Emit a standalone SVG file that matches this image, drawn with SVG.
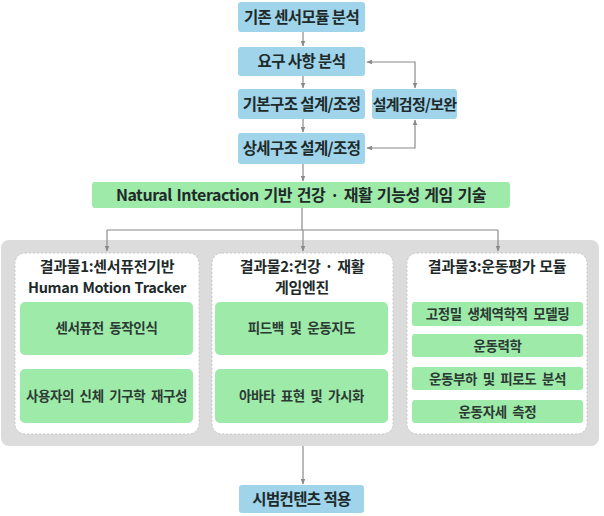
<svg xmlns="http://www.w3.org/2000/svg" width="604" height="516" viewBox="0 0 604 516">
<defs>
<marker id="ah" viewBox="0 0 10 10" refX="9" refY="5" markerWidth="6" markerHeight="6" orient="auto-start-reverse" markerUnits="userSpaceOnUse">
<path d="M0,1 L10,5 L0,9 z" fill="#8a8a8a"/>
</marker>
<style>
.blue{fill:#9fd4ea;}
.green{fill:#9eeaa9;}
.card{fill:#ffffff;stroke:#c8c8c8;stroke-width:1;stroke-dasharray:2 2;}
.t{font-family:"Noto Sans CJK KR","Liberation Sans",sans-serif;font-weight:bold;fill:#1e2a2a;text-anchor:middle;}
.b{font-size:15.5px;letter-spacing:-0.6px;}
.h{font-size:14.5px;letter-spacing:-0.3px;word-spacing:1px;}
.s{font-size:13.5px;letter-spacing:-0.4px;word-spacing:3px;fill:#2c3a34;}
.c{stroke:#8a8a8a;stroke-width:1.2;fill:none;}
</style>
</defs>
<rect width="604" height="516" fill="#ffffff"/>
<rect x="1" y="240" width="598" height="206" rx="8" fill="#dcdcdc"/>

<g id="connectors">
<line class="c" x1="303" y1="32" x2="303" y2="46" marker-end="url(#ah)"/>
<line class="c" x1="303" y1="76" x2="303" y2="88" marker-end="url(#ah)"/>
<line class="c" x1="303" y1="119" x2="303" y2="132" marker-end="url(#ah)"/>
<line class="c" x1="303" y1="164" x2="303" y2="181" marker-end="url(#ah)"/>
<polyline class="c" points="367,62 415,62 415,88" marker-start="url(#ah)" marker-end="url(#ah)"/>
<polyline class="c" points="367,148 415,148 415,120" marker-start="url(#ah)" marker-end="url(#ah)"/>
<line class="c" x1="302" y1="208" x2="302" y2="230"/>
<line class="c" x1="107" y1="230" x2="498" y2="230"/>
<line class="c" x1="107" y1="230" x2="107" y2="251" marker-end="url(#ah)"/>
<line class="c" x1="303" y1="230" x2="303" y2="251" marker-end="url(#ah)"/>
<line class="c" x1="498" y1="230" x2="498" y2="251" marker-end="url(#ah)"/>
<line class="c" x1="303" y1="446" x2="303" y2="484" marker-end="url(#ah)"/>
</g>

<g id="n1"><rect class="blue" x="238" y="2" width="127" height="30" rx="3"/><text class="t b" x="301.5" y="22.5">기존 센서모듈 분석</text></g>
<g id="n2"><rect class="blue" x="238" y="47" width="127" height="29" rx="3"/><text class="t b" x="301.5" y="67">요구 사항 분석</text></g>
<g id="n3"><rect class="blue" x="238" y="89" width="127" height="30" rx="3"/><text class="t b" x="301.5" y="109.5">기본구조 설계/조정</text></g>
<g id="n4"><rect class="blue" x="372" y="89" width="85" height="30" rx="3"/><text class="t b" x="414.5" y="109.5" style="font-size:15px;letter-spacing:-0.7px">설계검정/보완</text></g>
<g id="n5"><rect class="blue" x="238" y="133" width="127" height="31" rx="3"/><text class="t b" x="301.5" y="154">상세구조 설계/조정</text></g>
<g id="n6"><rect class="green" x="92" y="182" width="418" height="26" rx="3"/><text class="t" x="301" y="201" style="font-size:16px;letter-spacing:-0.45px;word-spacing:1.5px">Natural Interaction 기반 건강 · 재활 기능성 게임 기술</text></g>

<g id="card1">
<rect class="card" x="15" y="253" width="184" height="181" rx="10"/>
<text class="t h" x="107" y="272" style="font-size:15px">결과물1:센서퓨전기반</text>
<text class="t h" x="107" y="293">Human Motion Tracker</text>
<rect class="green" x="20" y="302" width="173" height="53" rx="5"/>
<text class="t s" x="106.5" y="333">센서퓨전 동작인식</text>
<rect class="green" x="20" y="369" width="173" height="54" rx="5"/>
<text class="t s" x="106.5" y="401">사용자의 신체 기구학 재구성</text>
</g>

<g id="card2">
<rect class="card" x="212" y="253" width="181" height="181" rx="10"/>
<text class="t h" x="302" y="272" style="font-size:15px">결과물2:건강 · 재활</text>
<text class="t h" x="302" y="293" style="font-size:15px">게임엔진</text>
<rect class="green" x="215" y="302" width="173" height="53" rx="5"/>
<text class="t s" x="301.5" y="333">피드백 및 운동지도</text>
<rect class="green" x="215" y="369" width="173" height="54" rx="5"/>
<text class="t s" x="301.5" y="401">아바타 표현 및 가시화</text>
</g>

<g id="card3">
<rect class="card" x="407" y="253" width="180" height="181" rx="10"/>
<text class="t h" x="497" y="272" style="font-size:15px">결과물3:운동평가 모듈</text>
<rect class="green" x="412" y="302" width="171" height="24" rx="3"/>
<text class="t s" x="497.5" y="319">고정밀 생체역학적 모델링</text>
<rect class="green" x="412" y="334" width="171" height="23" rx="3"/>
<text class="t s" x="497.5" y="350.5">운동력학</text>
<rect class="green" x="412" y="367" width="171" height="23" rx="3"/>
<text class="t s" x="497.5" y="383.5">운동부하 및 피로도 분석</text>
<rect class="green" x="412" y="400" width="171" height="23" rx="3"/>
<text class="t s" x="497.5" y="416.5">운동자세 측정</text>
</g>

<g id="n7"><rect class="blue" x="239" y="485" width="125" height="28" rx="3"/><text class="t b" x="301.5" y="504.5">시범컨텐츠 적용</text></g>
</svg>
